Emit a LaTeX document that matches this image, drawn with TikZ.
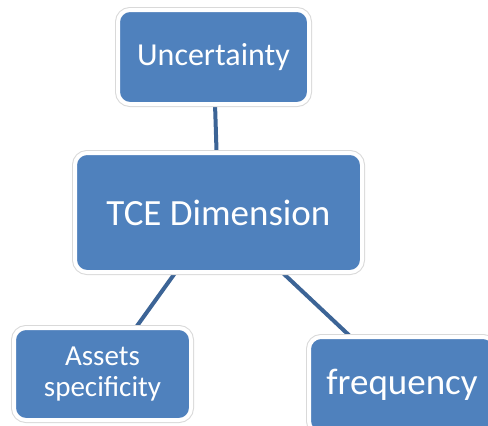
\documentclass[tikz,border=0pt]{standalone}
\usepackage{fontspec}
\setmainfont{Carlito}
\usetikzlibrary{backgrounds}
\definecolor{boxblue}{HTML}{4F81BD}
\definecolor{linkblue}{HTML}{3C6496}
\begin{document}
\begin{tikzpicture}[x=1pt,y=-1pt,
  topic/.style={rectangle, rounded corners=12pt, fill=boxblue, draw=white,
    line width=4pt, preaction={draw=black!15, line width=6pt},
    text=white, align=center, inner sep=0pt},
  link/.style={draw=linkblue, line width=4pt}]
\useasboundingbox (0,0) rectangle (488,426);
\clip (0,0) rectangle (488,426);
\node[topic, minimum width=191pt, minimum height=94pt, font=\fontsize{32}{36}\selectfont] (unc) at (213.5,57) {Uncertainty};
\node[topic, minimum width=287pt, minimum height=119pt, font=\fontsize{37}{42}\selectfont] (tce) at (218.5,212.5) {TCE Dimension};
\node[topic, minimum width=177pt, minimum height=92pt, font=\fontsize{29}{31}\selectfont] (asp) at (102.5,374) {Assets\\specificity};
\node[topic, minimum width=186pt, minimum height=96pt, font=\fontsize{37}{42}\selectfont] (frq) at (402,385) {frequency};
% connectors run centre to centre, hidden under the boxes
\begin{scope}[on background layer]
  \draw[link] (unc.center) -- (tce.center);
  \draw[link] (tce.center) -- (asp.center);
  \draw[link] (tce.center) -- (frq.center);
\end{scope}
\end{tikzpicture}
\end{document}
